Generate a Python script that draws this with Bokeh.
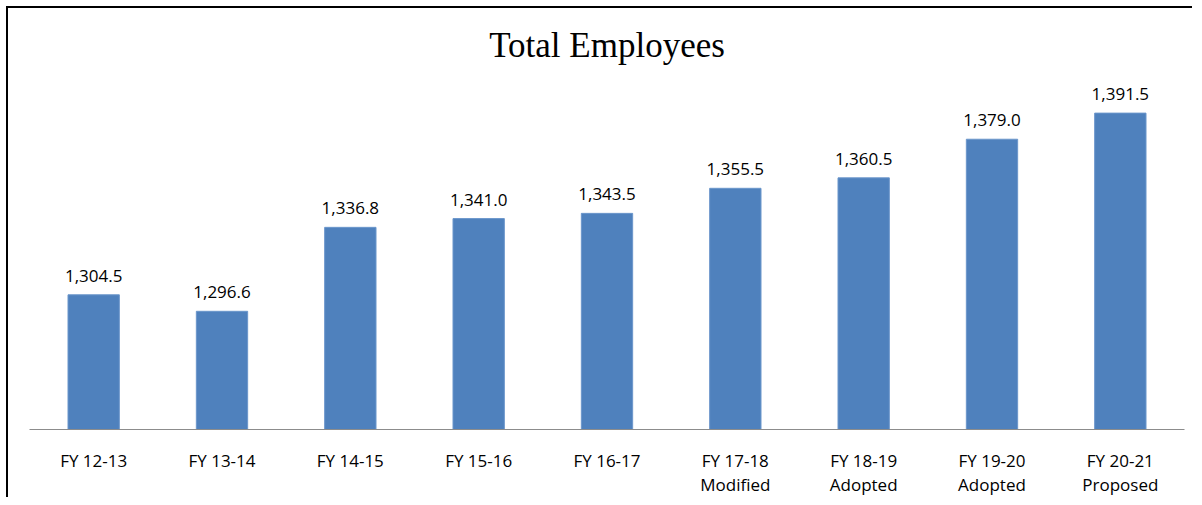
from bokeh.plotting import figure
from bokeh.models import FactorRange, Range1d, ColumnDataSource
from bokeh.core.properties import value
from bokeh.embed import file_html
from bokeh.resources import INLINE

categories = ["FY 12-13", "FY 13-14", "FY 14-15", "FY 15-16", "FY 16-17",
              "FY 17-18\nModified", "FY 18-19\nAdopted", "FY 19-20\nAdopted", "FY 20-21\nProposed"]
employees = [1304.5, 1296.6, 1336.8, 1341.0, 1343.5, 1355.5, 1360.5, 1379.0, 1391.5]
labels = [f"{v:,.1f}" for v in employees]

src = ColumnDataSource(dict(cat=categories, val=employees, lab=labels))

p = figure(x_range=FactorRange(*categories), y_range=Range1d(1240, 1407.6),
           width=1186, height=491, output_backend="svg", toolbar_location=None,
           y_axis_location=None, min_border_left=21, min_border_right=10,
           min_border_top=70, min_border_bottom=69, title="Total Employees")
p.styles = {"border-left": "2px solid #000", "border-top": "2px solid #000",
            "margin-left": "6px", "margin-top": "6px"}
p.outline_line_color = None
p.xgrid.visible = False
p.ygrid.visible = False

p.title.text_font = "Liberation Serif"
p.title.text_font_size = "35px"
p.title.text_font_style = "normal"
p.title.align = "center"
p.title.text_color = "#000000"
p.title.standoff = 30

p.vbar(x="cat", top="val", bottom=1240, width=0.4, source=src,
       fill_color="#4F81BD", line_color="#6B96CB", line_width=1)

p.text(x="cat", y="val", text="lab", source=src, y_offset=-13,
       text_align="center", text_baseline="bottom",
       text_font=value("Open Sans"), text_font_size="17px", text_color="#000000")

ax = p.xaxis[0]
ax.axis_line_color = "#8C8C8C"
ax.axis_line_width = 1.2
ax.major_tick_line_color = None
ax.minor_tick_line_color = None
ax.major_label_text_font = "Open Sans"
ax.major_label_text_font_size = "17px"
ax.major_label_text_color = "#000000"
ax.major_label_standoff = 13
ax.major_label_text_line_height = 1.08

open("out.html", "w").write(file_html(p, INLINE))
